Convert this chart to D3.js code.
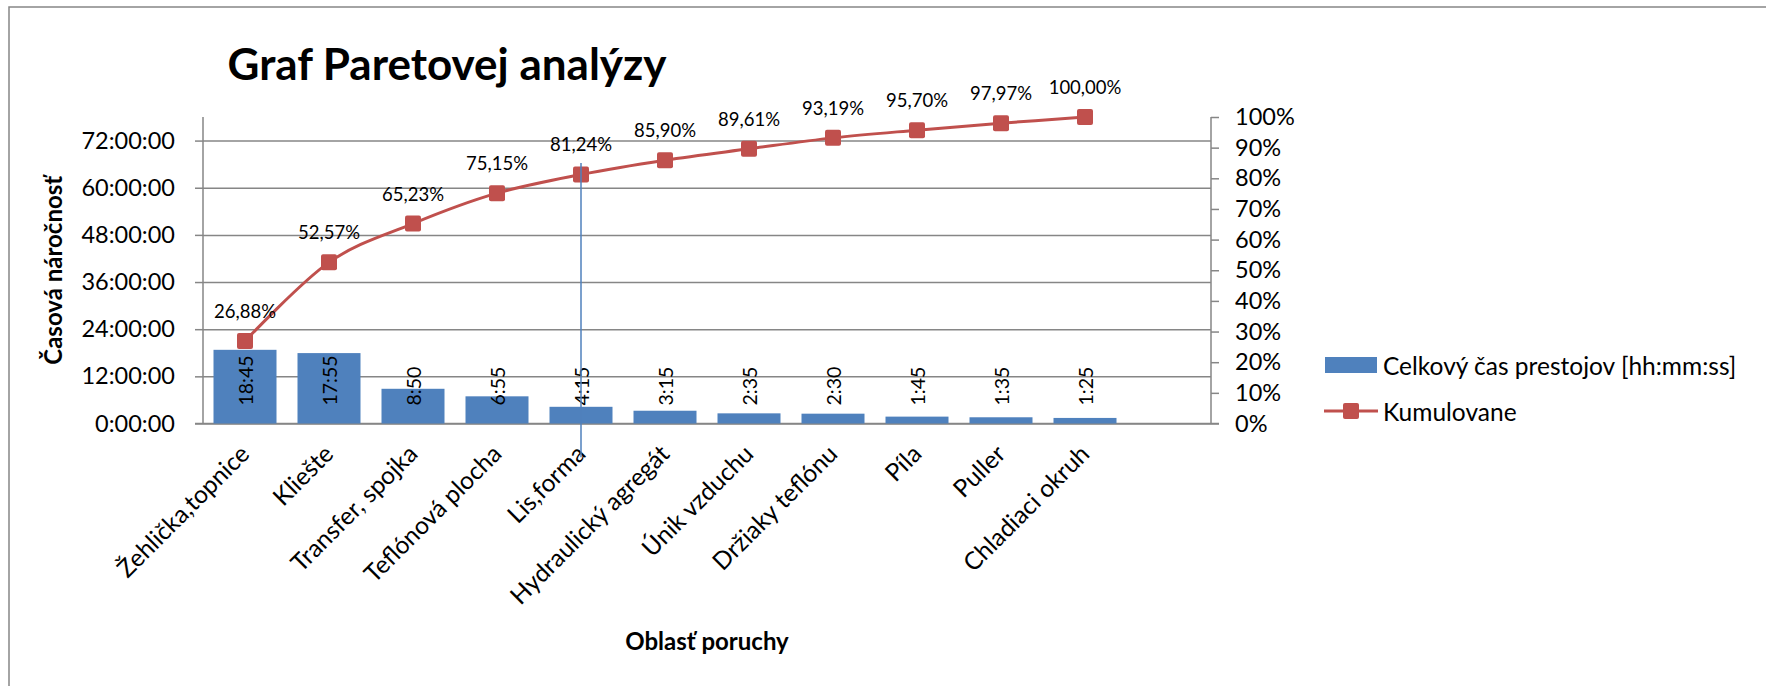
<html>
<head>
  <meta charset="utf-8">
  <script src="https://d3js.org/d3.v7.min.js"></script>
  <style>
    body { margin: 0; background: #fff; }
    svg text { font-family: Lato, "Open Sans", sans-serif; fill: #000; }
    .grid line { stroke: #868686; stroke-width: 1.5; }
    .axisline { stroke: #868686; stroke-width: 1.5; }
  </style>
</head>
<body>
  <svg id="p" width="1766" height="686"></svg>
  <script>
    // values
    const categories = ["Žehlička,topnice", "Kliešte", "Transfer, spojka", "Teflónová plocha", "Lis,forma",
                        "Hydraulický agregát", "Únik vzduchu", "Držiaky teflónu", "Píla", "Puller", "Chladiaci okruh"];
    const downtime = ["18:45", "17:55", "8:50", "6:55", "4:15", "3:15", "2:35", "2:30", "1:45", "1:35", "1:25"];
    const cumulative = [26.88, 52.57, 65.23, 75.15, 81.24, 85.90, 89.61, 93.19, 95.70, 97.97, 100.00];
    const hourTicks = [0, 12, 24, 36, 48, 60, 72];
    const pctTicks = [0, 10, 20, 30, 40, 50, 60, 70, 80, 90, 100];
    const seriesNames = ["Celkový čas prestojov [hh:mm:ss]", "Kumulovane"];
    // stray blue line drawn over the chart (category, from %, to %)
    const strayLine = ["Lis,forma", 85, -11];

    const toHours = s => { const p = s.split(":"); return +p[0] + (+p[1]) / 60; };
    const data = categories.map((c, i) => ({cat: c, label: downtime[i], hours: toHours(downtime[i]), pct: cumulative[i]}));

    const svg = d3.select("svg#p");
    const plot = {left: 203, right: 1211, top: 117, bottom: 423.5};
    const sk = d3.formatLocale({decimal: ",", thousands: " ", grouping: [3], currency: ["", " €"]});
    const pctFmt = sk.format(".2f");

    // chart border
    svg.append("rect").attr("x", 9).attr("y", 7).attr("width", 1800).attr("height", 720)
       .attr("fill", "none").attr("stroke", "#868686").attr("stroke-width", 1.5);

    // an empty slot is left after the last category
    const x = d3.scaleBand().domain(categories.concat([" "])).range([plot.left, plot.right])
                .paddingInner(0.25).paddingOuter(0.125);
    const yH = d3.scaleLinear().domain([0, 78]).range([plot.bottom, plot.top]);
    const yP = d3.scaleLinear().domain([0, 100]).range([plot.bottom, plot.top]);
    const cx = c => x(c) + x.bandwidth() / 2;

    // gridlines
    svg.append("g").attr("class", "grid")
       .attr("transform", "translate(" + plot.left + ",0)")
       .call(d3.axisLeft(yH).tickValues(hourTicks).tickSize(-(plot.right - plot.left)).tickFormat(""))
       .call(g => g.select(".domain").remove());

    // left axis
    const left = svg.append("g").attr("transform", "translate(" + plot.left + ",0)")
       .call(d3.axisLeft(yH).tickValues(hourTicks).tickSize(8).tickPadding(20)
               .tickFormat(d => d + ":00:00"));
    left.select(".domain").attr("d", "M0," + plot.top + "V" + plot.bottom).attr("class", "axisline");
    left.selectAll(".tick line").attr("stroke", "#868686").attr("stroke-width", 1.5);
    left.selectAll("text").style("font-size", "23.5px");

    // right axis
    const right = svg.append("g").attr("transform", "translate(" + plot.right + ",0)")
       .call(d3.axisRight(yP).tickValues(pctTicks).tickSize(8).tickPadding(16).tickFormat(d => d + "%"));
    right.select(".domain").attr("d", "M0," + plot.top + "V" + plot.bottom).attr("class", "axisline");
    right.selectAll(".tick line").attr("stroke", "#868686").attr("stroke-width", 1.5);
    right.selectAll("text").style("font-size", "23.5px");

    // category axis
    const bottom = svg.append("g").attr("transform", "translate(0," + plot.bottom + ")")
       .call(d3.axisBottom(x).tickSize(0).tickPadding(0));
    bottom.select(".domain").attr("d", "M" + (plot.left - 8) + ",0H" + (plot.right + 8)).attr("class", "axisline");
    bottom.selectAll(".tick text")
       .attr("text-anchor", "end")
       .attr("dy", null)
       .attr("transform", "translate(6,32) rotate(-45)")
       .style("font-size", "24.5px");

    // bars
    svg.append("g").selectAll("rect").data(data).join("rect")
       .attr("x", d => x(d.cat))
       .attr("width", x.bandwidth())
       .attr("y", d => yH(d.hours))
       .attr("height", d => yH(0) - yH(d.hours))
       .attr("fill", "#4F81BD");

    svg.append("g").selectAll("text").data(data).join("text")
       .attr("transform", d => "translate(" + cx(d.cat) + "," + (yH(0) - 18) + ") rotate(-90)")
       .attr("dominant-baseline", "central")
       .style("font-size", "19.5px")
       .text(d => d.label);

    // cumulative line
    const line = d3.line().x(d => cx(d.cat)).y(d => yP(d.pct)).curve(d3.curveCardinal.tension(0));
    svg.append("path").datum(data).attr("d", line)
       .attr("fill", "none").attr("stroke", "#C0504D").attr("stroke-width", 3);
    svg.append("g").selectAll("rect").data(data).join("rect")
       .attr("x", d => cx(d.cat) - 8).attr("y", d => yP(d.pct) - 8)
       .attr("width", 16).attr("height", 16).attr("rx", 2)
       .attr("fill", "#C0504D");
    svg.append("g").selectAll("text").data(data).join("text")
       .attr("x", d => cx(d.cat)).attr("y", d => yP(d.pct) - 23)
       .attr("text-anchor", "middle")
       .style("font-size", "18.5px")
       .text(d => pctFmt(d.pct) + "%");

    // stray blue line
    svg.append("line")
       .attr("x1", cx(strayLine[0])).attr("x2", cx(strayLine[0]))
       .attr("y1", yP(strayLine[1])).attr("y2", yP(strayLine[2]))
       .attr("stroke", "#4F81BD").attr("stroke-width", 1.5);

    // titles
    svg.append("text").attr("x", 447).attr("y", 80).attr("text-anchor", "middle")
       .style("font-size", "44px").style("font-weight", "bold").text("Graf Paretovej analýzy");
    svg.append("text").attr("transform", "translate(62," + ((plot.top + plot.bottom) / 2) + ") rotate(-90)")
       .attr("text-anchor", "middle").style("font-size", "24px").style("font-weight", "bold")
       .text("Časová náročnosť");
    svg.append("text").attr("x", (plot.left + plot.right) / 2).attr("y", 650).attr("text-anchor", "middle")
       .style("font-size", "24px").style("font-weight", "bold").text("Oblasť poruchy");

    // legend
    const legend = svg.append("g").attr("transform", "translate(1324,365)");
    legend.append("rect").attr("x", 1).attr("y", -8).attr("width", 52).attr("height", 16).attr("fill", "#4F81BD");
    legend.append("line").attr("x1", 0).attr("x2", 54).attr("y1", 46).attr("y2", 46)
          .attr("stroke", "#C0504D").attr("stroke-width", 3);
    legend.append("rect").attr("x", 19).attr("y", 38).attr("width", 16).attr("height", 16).attr("rx", 2)
          .attr("fill", "#C0504D");
    legend.selectAll("text.lg").data(seriesNames).join("text").attr("class", "lg")
          .attr("x", 59).attr("y", (d, i) => i * 46)
          .attr("dominant-baseline", "central")
          .style("font-size", "24.5px")
          .text(d => d);
  </script>
</body>
</html>
